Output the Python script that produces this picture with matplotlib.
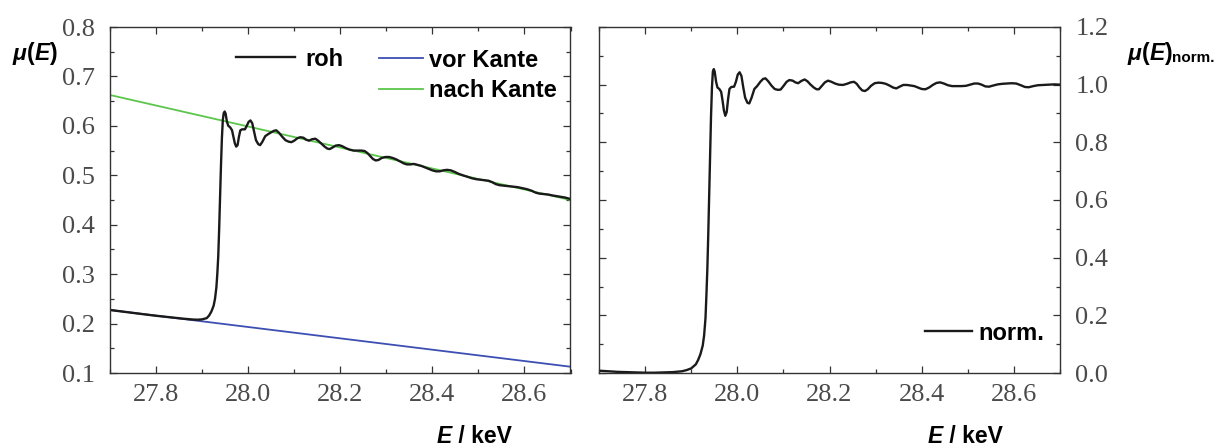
import matplotlib
matplotlib.use("Agg")
import matplotlib.pyplot as plt
from matplotlib.ticker import MultipleLocator, FormatStrFormatter

# ---------------- data ----------------
# energy grid (keV)
E_norm = [27.70, 27.72, 27.74, 27.76, 27.78, 27.80, 27.82, 27.84, 27.86, 27.88,
          27.89, 27.90, 27.91, 27.915, 27.92, 27.925, 27.928, 27.931, 27.933, 27.935,
          27.937, 27.939, 27.941, 27.943, 27.945, 27.947, 27.949, 27.951, 27.954, 27.957,
          27.961, 27.965, 27.968, 27.971, 27.974, 27.977, 27.980, 27.983, 27.987, 27.993,
          27.997, 28.001, 28.005, 28.009, 28.013, 28.017, 28.022, 28.026, 28.031, 28.037,
          28.043, 28.050, 28.056, 28.061, 28.067, 28.074, 28.081, 28.088, 28.094, 28.100,
          28.107, 28.113, 28.120, 28.126, 28.132, 28.139, 28.146, 28.152, 28.159, 28.166,
          28.172, 28.177, 28.183, 28.190, 28.197, 28.204, 28.212, 28.220, 28.229, 28.238,
          28.246, 28.253, 28.259, 28.265, 28.271, 28.277, 28.283, 28.290, 28.298, 28.306,
          28.314, 28.322, 28.330, 28.338, 28.345, 28.352, 28.360, 28.368, 28.376, 28.384,
          28.392, 28.400, 28.408, 28.416, 28.424, 28.432, 28.440, 28.448, 28.457, 28.466,
          28.476, 28.486, 28.496, 28.505, 28.514, 28.522, 28.530, 28.538, 28.546, 28.555,
          28.565, 28.575, 28.585, 28.595, 28.605, 28.615, 28.624, 28.632, 28.642, 28.652,
          28.662, 28.675, 28.688, 28.700]
# normalised spectrum (right panel)
mu_norm = [0.008, 0.006, 0.004, 0.003, 0.002, 0.001, 0.001, 0.002, 0.003, 0.006,
           0.010, 0.016, 0.030, 0.045, 0.065, 0.095, 0.130, 0.190, 0.270, 0.360,
           0.480, 0.620, 0.760, 0.890, 0.990, 1.045, 1.054, 1.045, 1.010, 0.990,
           0.985, 0.975, 0.945, 0.910, 0.892, 0.905, 0.950, 0.985, 0.992, 0.993,
           1.010, 1.035, 1.043, 1.030, 0.990, 0.955, 0.937, 0.935, 0.955, 0.985,
           0.995, 1.010, 1.020, 1.022, 1.012, 0.997, 0.985, 0.982, 0.983, 0.995,
           1.010, 1.016, 1.014, 1.008, 1.005, 1.013, 1.018, 1.012, 1.000, 0.990,
           0.984, 0.984, 0.995, 1.008, 1.014, 1.010, 1.004, 1.000, 0.999, 1.003,
           1.008, 1.010, 1.003, 0.990, 0.980, 0.978, 0.984, 0.996, 1.005, 1.007,
           1.006, 1.003, 0.997, 0.990, 0.987, 0.993, 0.999, 0.999, 0.997, 0.995,
           0.990, 0.985, 0.984, 0.990, 0.999, 1.006, 1.008, 1.004, 0.998, 0.995,
           0.995, 0.995, 0.996, 1.000, 1.004, 1.004, 1.000, 0.994, 0.993, 0.997,
           1.001, 1.003, 1.004, 1.005, 1.004, 0.998, 0.992, 0.991, 0.995, 0.998,
           0.999, 1.000, 1.001, 1.000]

# raw spectrum (left panel)
E_raw = E_norm
mu_raw = [0.2275, 0.2252, 0.2228, 0.2204, 0.2180, 0.2158, 0.2138, 0.2118, 0.2098, 0.2082,
          0.2078, 0.2085, 0.2110, 0.2160, 0.2240, 0.2360, 0.2500, 0.2730, 0.3000, 0.3350,
          0.3900, 0.4550, 0.5200, 0.5750, 0.6120, 0.6260, 0.6290, 0.6250, 0.6080, 0.6000,
          0.5970, 0.5910, 0.5780, 0.5650, 0.5580, 0.5610, 0.5780, 0.5910, 0.5930, 0.5930,
          0.6000, 0.6080, 0.6110, 0.6050, 0.5880, 0.5710, 0.5630, 0.5610, 0.5680, 0.5790,
          0.5830, 0.5870, 0.5900, 0.5910, 0.5860, 0.5780, 0.5710, 0.5680, 0.5670, 0.5700,
          0.5750, 0.5770, 0.5760, 0.5720, 0.5700, 0.5730, 0.5740, 0.5700, 0.5640, 0.5580,
          0.5540, 0.5530, 0.5560, 0.5600, 0.5610, 0.5590, 0.5550, 0.5520, 0.5500, 0.5500,
          0.5500, 0.5490, 0.5450, 0.5390, 0.5330, 0.5300, 0.5310, 0.5350, 0.5370, 0.5370,
          0.5350, 0.5320, 0.5280, 0.5240, 0.5220, 0.5220, 0.5230, 0.5210, 0.5190, 0.5160,
          0.5130, 0.5100, 0.5080, 0.5080, 0.5100, 0.5110, 0.5100, 0.5070, 0.5030, 0.5000,
          0.4970, 0.4940, 0.4920, 0.4910, 0.4900, 0.4890, 0.4860, 0.4820, 0.4800, 0.4790,
          0.4780, 0.4770, 0.4760, 0.4740, 0.4720, 0.4690, 0.4650, 0.4630, 0.4620, 0.4610,
          0.4590, 0.4570, 0.4550, 0.4520]

# pre-edge and post-edge lines (end points)
E_line = [27.70, 28.70]
pre_edge = [0.2275, 0.1127]
post_edge = [0.6624, 0.4500]

labels_left = ["roh", "vor Kante", "nach Kante"]
label_right = "norm."

# ---------------- figure ----------------
W, H = 1221, 448
fig = plt.figure(figsize=(W / 100, H / 100), dpi=100)

sans = "Liberation Sans"
serif = "Liberation Serif"
tick_color = "#4a4a4a"
c_black = "#1a1a1a"
c_blue = "#3d4fb2"
c_green = "#5cc64c"

ax1 = fig.add_axes([110 / W, 75 / H, 460.5 / W, 346 / H])
ax2 = fig.add_axes([599 / W, 75 / H, 461 / W, 346 / H])

ax1.set_ylim(0.1, 0.8)
ax1.yaxis.set_major_locator(MultipleLocator(0.1))
ax1.yaxis.set_minor_locator(MultipleLocator(0.05))

ax2.set_ylim(0.0, 1.2)
ax2.yaxis.set_major_locator(MultipleLocator(0.2))
ax2.yaxis.set_minor_locator(MultipleLocator(0.1))

for ax in (ax1, ax2):
    ax.set_xlim(27.7, 28.7)
    ax.xaxis.set_major_locator(MultipleLocator(0.2))
    ax.xaxis.set_minor_locator(MultipleLocator(0.1))
    ax.xaxis.set_major_formatter(FormatStrFormatter("%.1f"))
    ax.yaxis.set_major_formatter(FormatStrFormatter("%.1f"))
    ax.tick_params(which="both", direction="in", top=True, bottom=True,
                   left=True, right=True, color="#333333", width=0.9)
    ax.tick_params(which="major", length=5, labelcolor=tick_color)
    ax.tick_params(which="minor", length=3)
    ax.tick_params(axis="x", which="major", pad=8)
    ax.tick_params(axis="y", which="major", pad=11)
    for s in ax.spines.values():
        s.set_color("#333333")
        s.set_linewidth(1.0)

ax2.tick_params(axis="y", labelleft=False, labelright=True)

for ax in (ax1, ax2):
    for lab in ax.get_xticklabels() + ax.get_yticklabels():
        lab.set_fontfamily(serif)
        lab.set_fontsize(19)

# ---------------- plots ----------------
l_pre, = ax1.plot(E_line, pre_edge, color=c_blue, lw=1.3, label=labels_left[1])
l_post, = ax1.plot(E_line, post_edge, color=c_green, lw=1.3, label=labels_left[2])
l_raw, = ax1.plot(E_raw, mu_raw, color=c_black, lw=1.7, label=labels_left[0])
l_norm, = ax2.plot(E_norm, mu_norm, color=c_black, lw=1.7, label=label_right)

leg_font = dict(family=sans, weight="bold", size=17)
leg1 = ax1.legend(handles=[l_raw], loc="center left", bbox_to_anchor=(0.2736, 0.9075),
                  frameon=False, prop=leg_font, handlelength=2.5, handletextpad=0.45,
                  borderpad=0, borderaxespad=0)
ax1.add_artist(leg1)
ax1.legend(handles=[l_pre, l_post], loc="center left", bbox_to_anchor=(0.5852, 0.8600),
           frameon=False, prop=leg_font, handlelength=1.85, handletextpad=0.25,
           borderpad=0, borderaxespad=0, labelspacing=0.32)
ax2.legend(handles=[l_norm], loc="center left", bbox_to_anchor=(0.7072, 0.1156),
           frameon=False, prop=leg_font, handlelength=2.0, handletextpad=0.25,
           borderpad=0, borderaxespad=0)

# ---------------- axis labels ----------------
bi = dict(weight="bold", style="italic", size=16.5)
b = dict(weight="bold", size=16.5)
bs = dict(weight="bold", size=11)


def label_chain(parts, x_px, y_px):
    txt0, kw0 = parts[0]
    prev = fig.text(x_px / W, 1 - y_px / H, txt0, ha="left", va="baseline",
                    family=sans, **kw0)
    for txt, kw in parts[1:]:
        prev = fig.add_artist(matplotlib.text.Annotation(
            txt, xy=(1, 0), xycoords=prev, xytext=(0, 0), textcoords="offset points",
            ha="left", va="bottom", family=sans, annotation_clip=False, **kw))
    return prev


label_chain([("\u03bc", bi), ("(", b), ("E", bi), (")", b)], 13, 60)
label_chain([("\u03bc", bi), ("(", b), ("E", bi), (")", b), ("norm.", bs)], 1128, 60)
label_chain([("E", bi), (" / keV", b)], 437, 443)
label_chain([("E", bi), (" / keV", b)], 928, 443)

fig.savefig("out.png", dpi=100)
